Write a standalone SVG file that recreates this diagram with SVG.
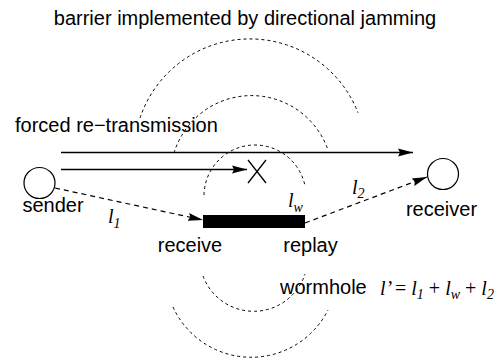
<svg xmlns="http://www.w3.org/2000/svg" width="500" height="362" viewBox="0 0 500 362">
<style>
.t{font-family:"Liberation Sans",Arial,sans-serif;font-size:20px;fill:#000}
.m{font-family:"Liberation Serif","Times New Roman",serif;font-style:italic;font-size:20px;fill:#000}
.s{font-size:14px}
.r{font-family:"Liberation Serif","Times New Roman",serif;font-style:normal;font-size:20px}
.arc{fill:none;stroke:#000;stroke-width:1;stroke-dasharray:3 3}
.sol{fill:none;stroke:#000;stroke-width:1.3}
.dsh{fill:none;stroke:#000;stroke-width:1.2;stroke-dasharray:5 4}
.node{fill:#fff;stroke:#000;stroke-width:1.2}
</style>
<defs>
<marker id="ah" markerUnits="userSpaceOnUse" markerWidth="16" markerHeight="10" refX="15" refY="5" orient="auto">
<path d="M0,1 L15,5 L0,9 L2,5 Z" fill="#000"/>
</marker>
</defs>
<text class="t" x="245" y="25" text-anchor="middle">barrier implemented by directional jamming</text>
<g id="jamming">
<path class="arc" d="M140,118 A116,116 0 0 1 358,112.7"/>
<path class="arc" d="M174,153 A81,81 0 0 1 328,150"/>
<path class="arc" d="M204,195 A51,51 0 0 1 305,186"/>
<path class="arc" d="M203,276 A54,54 0 0 0 305,274"/>
<path class="arc" d="M173,307 A86,86 0 0 0 328,310"/>
</g>
<text class="t" x="15" y="132">forced re−transmission</text>
<g id="sender">
<circle class="node" cx="39.5" cy="183" r="15.5"/>
<text class="t" x="53" y="212" text-anchor="middle">sender</text>
</g>
<g id="receiver">
<circle class="node" cx="443" cy="174" r="15.5"/>
<text class="t" x="441.5" y="216" text-anchor="middle">receiver</text>
</g>
<g id="wormhole">
<rect x="203" y="215" width="102" height="13" fill="#000"/>
<text class="t" x="190" y="252" text-anchor="middle">receive</text>
<text class="t" x="310.5" y="252" text-anchor="middle">replay</text>
<text class="t" x="280" y="294">wormhole</text>
<text class="m" x="380" y="295">l’ <tspan class="r">=</tspan> l<tspan class="s" dy="4">1</tspan><tspan dy="-4"> </tspan><tspan class="r">+</tspan> l<tspan class="s" dy="4">w</tspan><tspan dy="-4"> </tspan><tspan class="r">+</tspan> l<tspan class="s" dy="4">2</tspan></text>
</g>
<g id="connectors">
<line class="sol" x1="61" y1="152.5" x2="413" y2="152.5" marker-end="url(#ah)"/>
<line class="sol" x1="61" y1="169.5" x2="247" y2="169.5" marker-end="url(#ah)"/>
<path class="sol" d="M248,160 L266,183 M266,160 L248,183"/>
<line class="dsh" x1="55" y1="188" x2="203" y2="220" marker-end="url(#ah)"/>
<line class="dsh" x1="305" y1="223" x2="427" y2="177" marker-end="url(#ah)"/>
</g>
<g id="labels">
<text class="m" x="108" y="223">l<tspan class="s" dy="5">1</tspan></text>
<text class="m" x="288" y="207">l<tspan class="s" dy="5">w</tspan></text>
<text class="m" x="352" y="194">l<tspan class="s" dy="4">2</tspan></text>
</g>
</svg>
